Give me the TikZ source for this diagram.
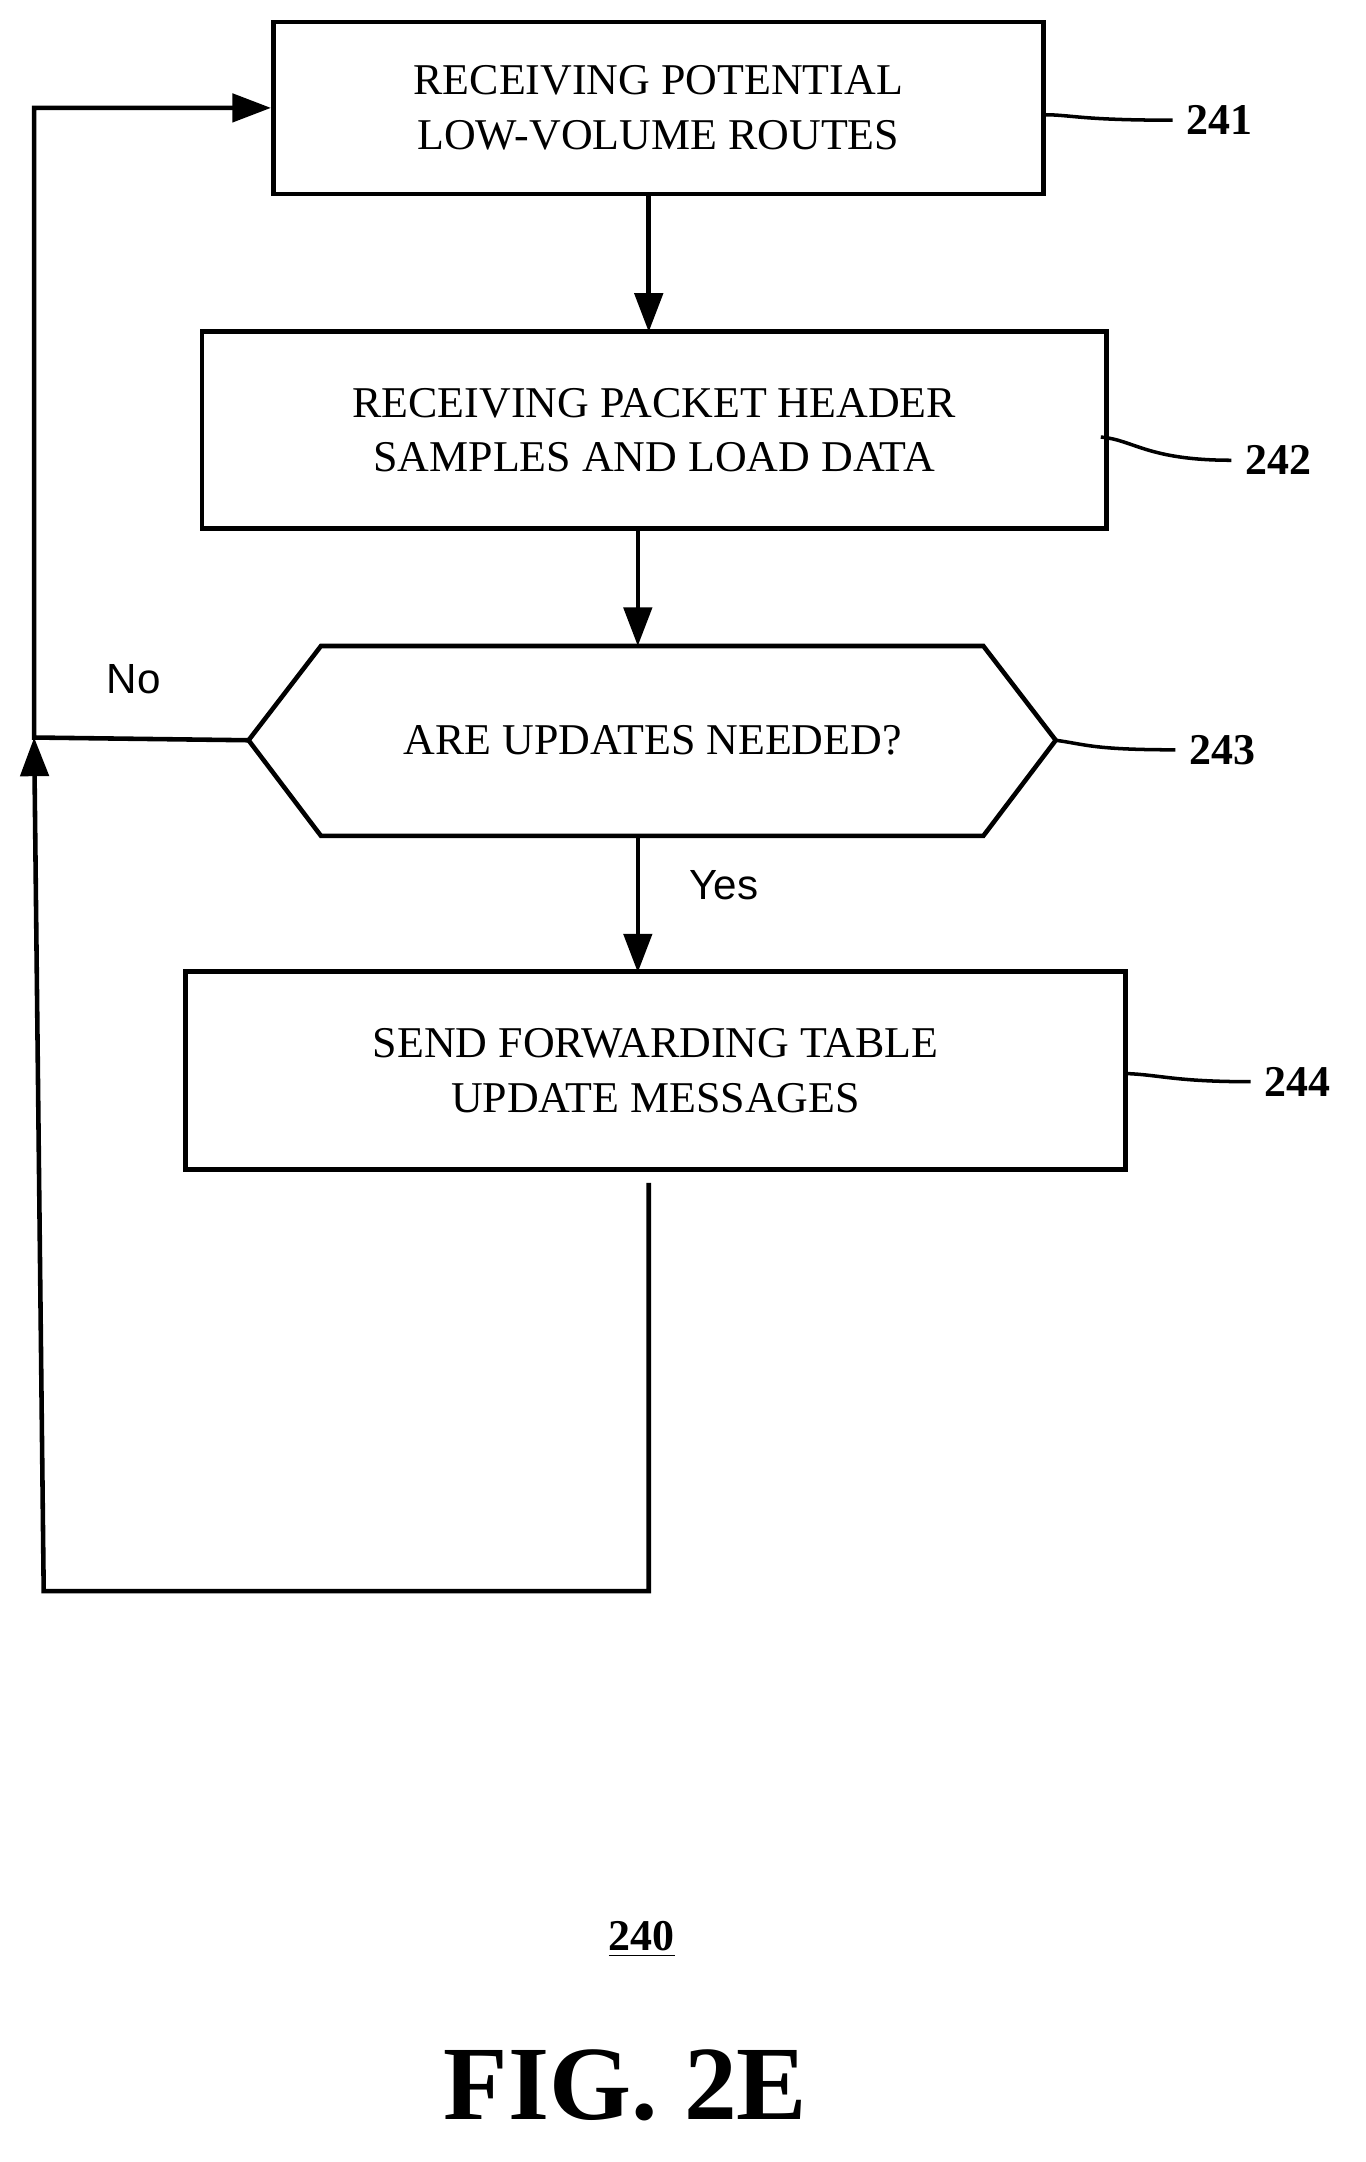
\documentclass[tikz,border=0pt]{standalone}
\usepackage{fontspec}
\setmainfont{Liberation Serif}
\newfontfamily\arialf{Liberation Sans}
\usetikzlibrary{arrows.meta}
\begin{document}
\begin{tikzpicture}[x=0.01366cm, y=-0.01366cm, line width=1.3pt,
  box/.style={draw, align=center, font=\fontsize{12.5}{15.5}\selectfont, inner sep=0pt},
  num/.style={font=\bfseries\fontsize{12.5}{15}\selectfont},
  lab/.style={font=\arialf\fontsize{12}{14}\selectfont},
  arr/.style={-{Triangle[length=11pt,width=8pt]}}]
\useasboundingbox (0,0) rectangle (1000,1583);
% boxes
\node[box, minimum width=7.70cm, minimum height=1.72cm] (recv) at (482,79) {RECEIVING POTENTIAL\\LOW-VOLUME ROUTES};
\node[box, minimum width=9.04cm, minimum height=1.97cm] (pkt) at (479,315) {RECEIVING PACKET HEADER\\SAMPLES AND LOAD DATA};
\coordinate (hl) at (182,542);
\coordinate (hr) at (773,542);
\draw (hl) -- (235,473) -- (720,473) -- (hr) -- (720,612) -- (235,612) -- cycle;
\node[box, draw=none] (upd) at (478,542) {ARE UPDATES NEEDED?};
\node[box, minimum width=9.40cm, minimum height=1.98cm] (send) at (480,784) {SEND FORWARDING TABLE\\UPDATE MESSAGES};
% reference numbers
\node[num] (n241) at (893,88) {241};
\node[num] (n242) at (936,337) {242};
\node[num] (n243) at (895,549) {243};
\node[num] (n244) at (950,792) {244};
\draw[line width=1pt] (764,84) .. controls (785,84) and (790,88) .. (n241.west);
\draw[line width=1pt] (806,320) .. controls (830,322) and (840,337) .. (n242.west);
\draw[line width=1pt] (hr) .. controls (795,545) and (800,549) .. (n243.west);
\draw[line width=1pt] (824,786) .. controls (850,787) and (860,792) .. (n244.west);
% flow
\draw[arr] (475,142) -- (475,243);
\draw[arr] (467,387) -- (467,473);
\draw[arr] (467,612) -- (467,712);
\node[lab] (yes) at (530,648) {Yes};
\node[lab] (no) at (98,497) {No};
\coordinate (j) at (25,540);
\draw[arr] (hl) -- (j) |- (recv.west);
\draw[arr] (475,866) -- (475,1165) -- (32,1165) -- (j);
% captions
\node[num] (ref) at (470,1420) {\underline{240}};
\node[font=\bfseries\fontsize{30}{34}\selectfont] (fig) at (458,1527) {FIG. 2E};
\end{tikzpicture}
\end{document}
